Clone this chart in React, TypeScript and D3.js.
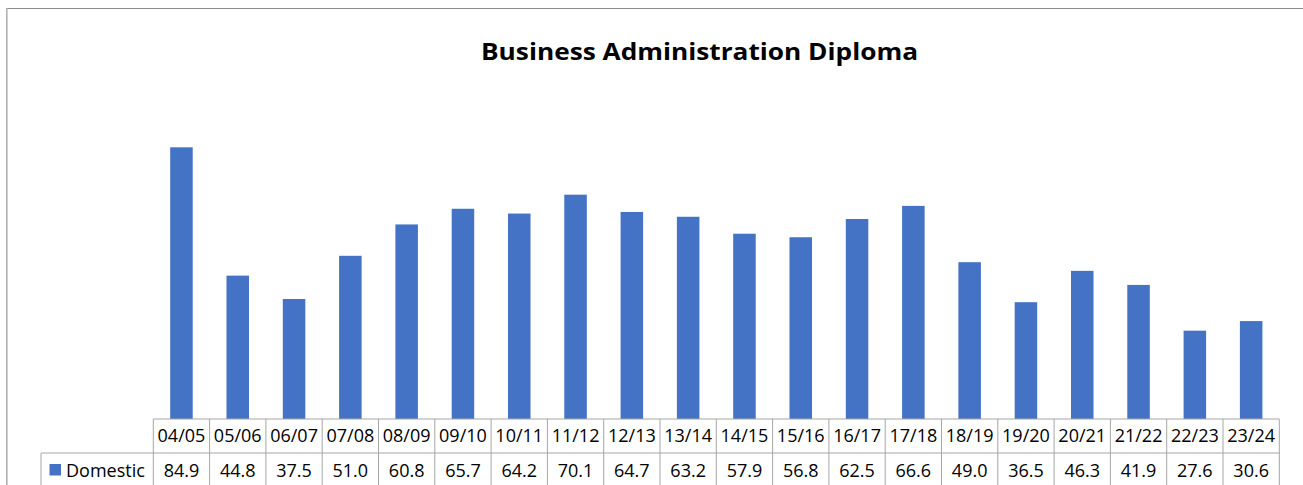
import React from "react";
import * as d3 from "d3";

const categories = ["04/05","05/06","06/07","07/08","08/09","09/10","10/11","11/12","12/13","13/14","14/15","15/16","16/17","17/18","18/19","19/20","20/21","21/22","22/23","23/24"];
const domestic = [84.9,44.8,37.5,51.0,60.8,65.7,64.2,70.1,64.7,63.2,57.9,56.8,62.5,66.6,49.0,36.5,46.3,41.9,27.6,30.6];
const seriesName = "Domestic";
const title = "Business Administration Diploma";

const W = 1303, H = 485;
const tableLeft = 153.3, tableRight = 1279.3;
const axisY = 419;
const rowSplit = 453;
const labelColLeft = 41;
const FONT = "'Open Sans', sans-serif";
const BLUE = "#4472C4";
const GRID = "#a6a6a6";

export default function App() {
  const x = d3.scaleBand<string>().domain(categories).range([tableLeft, tableRight]).paddingInner(0.6).paddingOuter(0.3);
  const col = d3.scaleBand<string>().domain(categories).range([tableLeft, tableRight]).padding(0);
  const y = d3.scaleLinear().domain([0, 100]).range([axisY, 99]);
  const step = col.step();

  return (
    <div style={{ position: "fixed", left: 0, top: 0, width: W, height: H, background: "#fff" }}>
      <svg width={W} height={H} style={{ display: "block" }}>
        <rect x={0} y={0} width={W} height={H} fill="#fff" />
        {/* frame */}
        <line x1={6} x2={W} y1={8.5} y2={8.5} stroke="#8c8c8c" strokeWidth={1} />
        <line x1={6.8} x2={6.8} y1={8} y2={H} stroke="#b0b0b0" strokeWidth={1.6} />

        <text x={699.5} y={60} textAnchor="middle" fontFamily={FONT} fontWeight="bold" fontSize={23} fill="#000" textLength={437} lengthAdjust="spacingAndGlyphs">{title}</text>

        {/* bars */}
        {categories.map((c, i) => (
          <rect key={c} x={x(c)} y={y(domestic[i])} width={x.bandwidth()} height={axisY - y(domestic[i])} fill={BLUE} />
        ))}

        {/* table lines */}
        <line x1={tableLeft} x2={tableRight} y1={axisY} y2={axisY} stroke={GRID} strokeWidth={1} />
        <line x1={labelColLeft} x2={tableRight} y1={rowSplit} y2={rowSplit} stroke={GRID} strokeWidth={1} />
        <line x1={labelColLeft} x2={labelColLeft} y1={rowSplit} y2={H} stroke={GRID} strokeWidth={1} />
        {categories.map((c) => (
          <line key={"v" + c} x1={col(c)} x2={col(c)} y1={axisY} y2={H} stroke={GRID} strokeWidth={1} />
        ))}
        <line x1={tableRight} x2={tableRight} y1={axisY} y2={H} stroke={GRID} strokeWidth={1} />

        {/* header labels */}
        {categories.map((c) => (
          <text key={"h" + c} x={(col(c) as number) + step / 2} y={442} textAnchor="middle" fontFamily={FONT} fontSize={18} fill="#000">{c}</text>
        ))}
        {/* values */}
        {categories.map((c, i) => (
          <text key={"d" + c} x={(col(c) as number) + step / 2} y={477} textAnchor="middle" fontFamily={FONT} fontSize={18} fill="#000">{domestic[i].toFixed(1)}</text>
        ))}
        {/* legend key */}
        <rect x={49.5} y={464} width={11.5} height={11.5} fill={BLUE} />
        <text x={66} y={477} fontFamily={FONT} fontSize={18} fill="#000">{seriesName}</text>
      </svg>
    </div>
  );
}
